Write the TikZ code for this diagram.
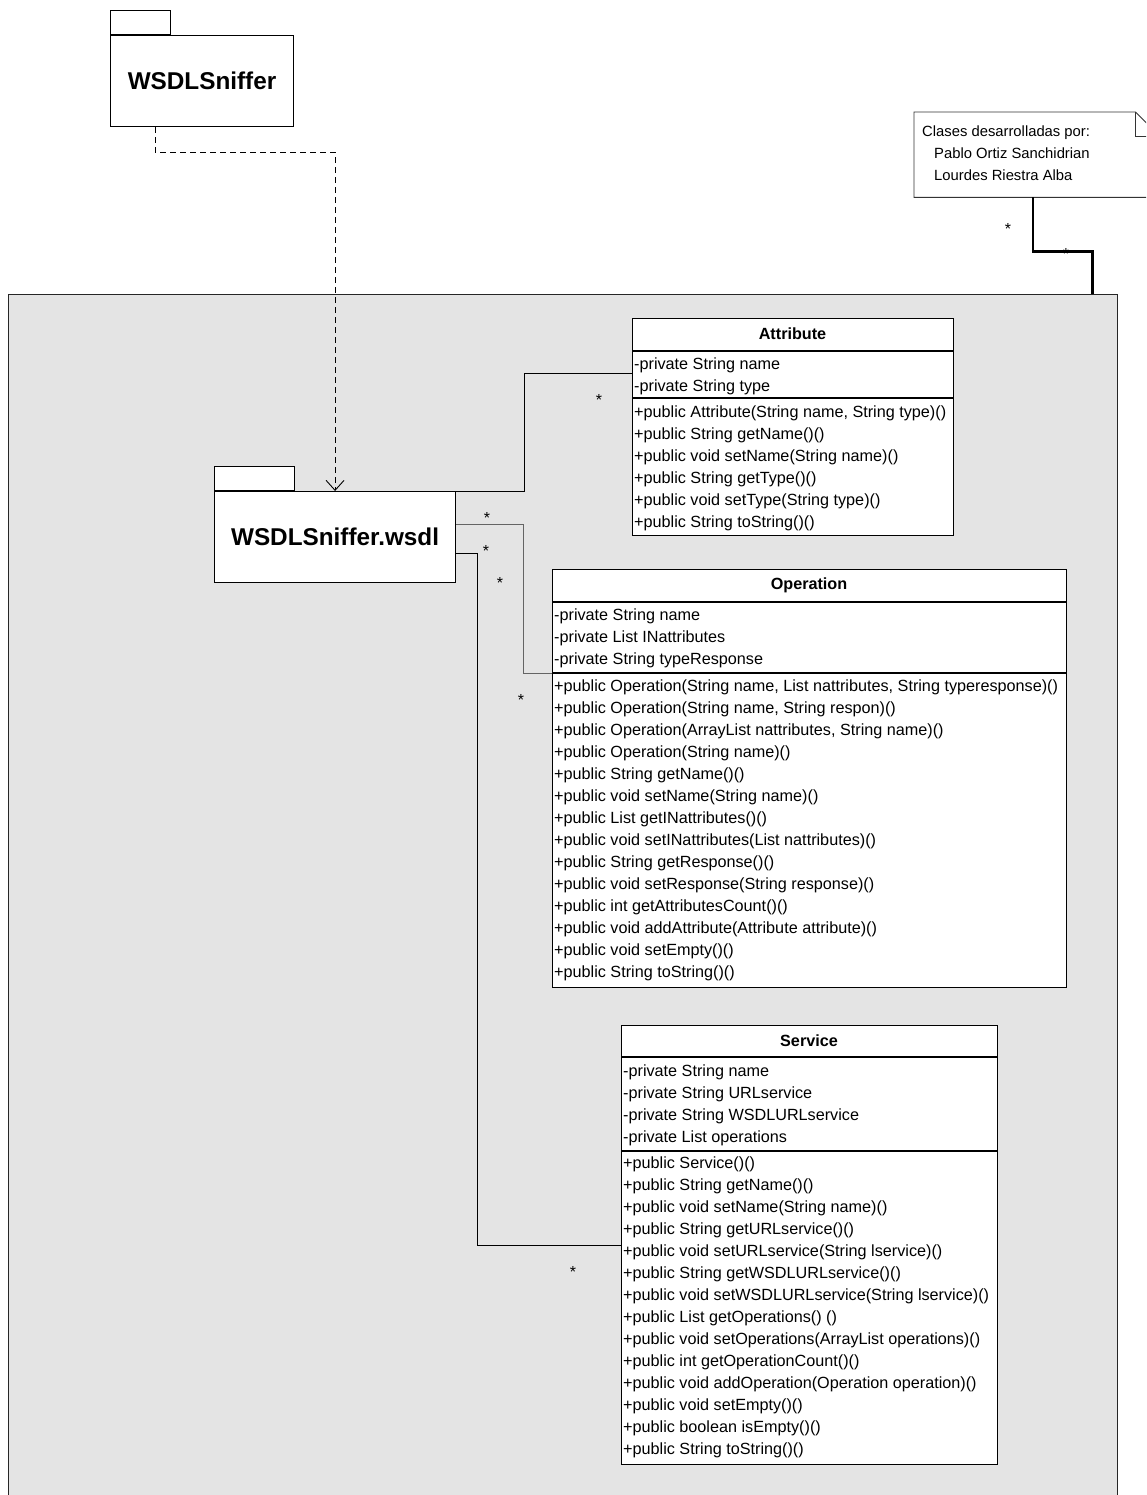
\documentclass[tikz,border=0pt]{standalone}
\usepackage{fontspec}
\setmainfont{Liberation Sans}
\usetikzlibrary{positioning}
\usetikzlibrary{arrows.meta}
\usetikzlibrary{calc}
\definecolor{pkgfill}{RGB}{228,228,228}
\definecolor{linkgray}{RGB}{100,100,100}

\begin{document}
\begin{tikzpicture}[x = 1pt, y = -1pt,
		classbox/.style = {draw, line width = 1.3pt, fill = white, anchor = north west, inner sep = 0pt},
		classline/.style = {line width = 1.3pt},
		classname/.style = {inner sep = 0pt, font = \bfseries\fontsize{16.2}{20}\selectfont},
		member/.style = {anchor = base west, inner sep = 0pt, font = \fontsize{16.2}{20}\selectfont},
		pkgbody/.style = {draw, line width = 1.1pt, fill = white, anchor = north west, inner sep = 0pt, font = \bfseries\fontsize{24.3}{28}\selectfont},
		pkgtab/.style = {draw, line width = 1.1pt, fill = white, anchor = south west, inner sep = 0pt, minimum height = 24pt},
		assoc/.style = {line width = 0.9pt},
		mult/.style = {inner sep = 0pt, font = \fontsize{16}{18}\selectfont}]
		\useasboundingbox (0, 0) rectangle (1146, 1495);
		\clip (0, 0) rectangle (1146, 1495);

		\node (frame) [draw = black!85, line width = 1.4pt, fill = pkgfill, anchor = north west, minimum width = 1109pt, minimum height = 1240pt] at (8, 294) {};

		\node (sniffer) [pkgbody, minimum width = 183pt, minimum height = 91pt] at (110, 35) {WSDLSniffer};
		\node (sniffertab) [pkgtab, minimum width = 60pt] at (sniffer.north west) {};

		\node (wsdl) [pkgbody, minimum width = 241pt, minimum height = 91pt] at (214, 491) {WSDLSniffer.wsdl};
		\node (wsdltab) [pkgtab, minimum width = 80pt] at (wsdl.north west) {};

		\node (note) [anchor = north west, minimum width = 245pt, minimum height = 85pt, inner sep = 0pt] at (914, 112) {};
		\draw [line width = 0.9pt, draw = black!80, fill = white] (note.south west) -- (note.north west) -- ([xshift = -24pt]note.north east) -- ([yshift = -24pt]note.north east) -- (note.south east) -- cycle;
		\draw [line width = 0.9pt, draw = black!80] ([xshift = -24pt]note.north east) |- ([yshift = -24pt]note.north east);
		\node (notetext) [anchor = north west, inner sep = 0pt, align = left, font = \fontsize{14.8}{22}\selectfont] at (922, 126) {Clases desarrolladas por:\\\hspace*{12pt}Pablo Ortiz Sanchidrian\\\hspace*{12pt}Lourdes Riestra Alba};

		\draw [line width = 2.4pt] ([xshift = 119pt]note.south west) -- ++(0, 54) -| ([xshift = -26pt]frame.north east);
		\node (notestar) [mult] at (1008, 229) {*};
		\node (framestar) [mult] at (1066, 254) {*};

		\draw [dashed, dash pattern = on 6pt off 4pt, line width = 0.9pt, -{Straight Barb[length = 10pt, width = 18pt]}] ([xshift = 45pt]sniffer.south west) -- ++(0, 25) -| (wsdl.north);

		\node (attribute) [classbox, minimum width = 321pt, minimum height = 217pt] at (632, 318) {};
		\node (attributename) [classname] at (792.5, 334) {Attribute};
		\draw [classline] ([yshift = -33pt]attribute.north west) -- ([yshift = -33pt]attribute.north east);
		\draw [classline] ([yshift = -80pt]attribute.north west) -- ([yshift = -80pt]attribute.north east);
		\foreach \m [count = \i from 0] in {-private String name, -private String type}
			\node (attributeattr\i) [member] at (634, 369 + 22*\i) {\m};
		\foreach \m [count = \i from 0] in {{+public Attribute(String name, String type)()}, +public String getName()(), {+public void setName(String name)()}, +public String getType()(), {+public void setType(String type)()}, +public String toString()()}
			\node (attributeop\i) [member] at (634, 417 + 22*\i) {\m};

		\node (operation) [classbox, minimum width = 514pt, minimum height = 418pt] at (552, 569) {};
		\node (operationname) [classname] at (809, 585) {Operation};
		\draw [classline] ([yshift = -33pt]operation.north west) -- ([yshift = -33pt]operation.north east);
		\draw [classline] ([yshift = -104pt]operation.north west) -- ([yshift = -104pt]operation.north east);
		\foreach \m [count = \i from 0] in {-private String name, -private List INattributes, -private String typeResponse}
			\node (operationattr\i) [member] at (554, 620 + 22*\i) {\m};
		\foreach \m [count = \i from 0] in {{+public Operation(String name, List nattributes, String typeresponse)()}, {+public Operation(String name, String respon)()}, {+public Operation(ArrayList nattributes, String name)()}, {+public Operation(String name)()}, +public String getName()(), {+public void setName(String name)()}, +public List getINattributes()(), {+public void setINattributes(List nattributes)()}, +public String getResponse()(), {+public void setResponse(String response)()}, +public int getAttributesCount()(), {+public void addAttribute(Attribute attribute)()}, +public void setEmpty()(), +public String toString()()}
			\node (operationop\i) [member] at (554, 691 + 22*\i) {\m};

		\node (service) [classbox, minimum width = 376pt, minimum height = 439pt] at (621, 1025) {};
		\node (servicename) [classname] at (809, 1041) {Service};
		\draw [classline] ([yshift = -32pt]service.north west) -- ([yshift = -32pt]service.north east);
		\draw [classline] ([yshift = -126pt]service.north west) -- ([yshift = -126pt]service.north east);
		\foreach \m [count = \i from 0] in {-private String name, -private String URLservice, -private String WSDLURLservice, -private List operations}
			\node (serviceattr\i) [member] at (623, 1076 + 22*\i) {\m};
		\foreach \m [count = \i from 0] in {+public Service()(), +public String getName()(), {+public void setName(String name)()}, +public String getURLservice()(), {+public void setURLservice(String lservice)()}, +public String getWSDLURLservice()(), {+public void setWSDLURLservice(String lservice)()}, {+public List getOperations() ()}, {+public void setOperations(ArrayList operations)()}, +public int getOperationCount()(), {+public void addOperation(Operation operation)()}, +public void setEmpty()(), +public boolean isEmpty()(), +public String toString()()}
			\node (serviceop\i) [member] at (623, 1168 + 22*\i) {\m};

		\draw [assoc] (wsdl.north east) -- ++(68, 0) |- ([yshift = -55pt]attribute.north west);
		\draw [assoc, draw = linkgray] ([yshift = -33pt]wsdl.north east) -- ++(67, 0) |- ([yshift = -104pt]operation.north west);
		\draw [assoc] ([yshift = -62pt]wsdl.north east) -- ++(21, 0) |- ([yshift = -220pt]service.north west);

		\node (attributestar) [mult] at (599, 400) {*};
		\node (wsdlstara) [mult] at (487, 518) {*};
		\node (wsdlstarb) [mult] at (486, 551) {*};
		\node (wsdlstarc) [mult] at (500, 583) {*};
		\node (operationstar) [mult] at (521, 700) {*};
		\node (servicestar) [mult] at (573, 1272) {*};
	\end{tikzpicture}
\end{document}
